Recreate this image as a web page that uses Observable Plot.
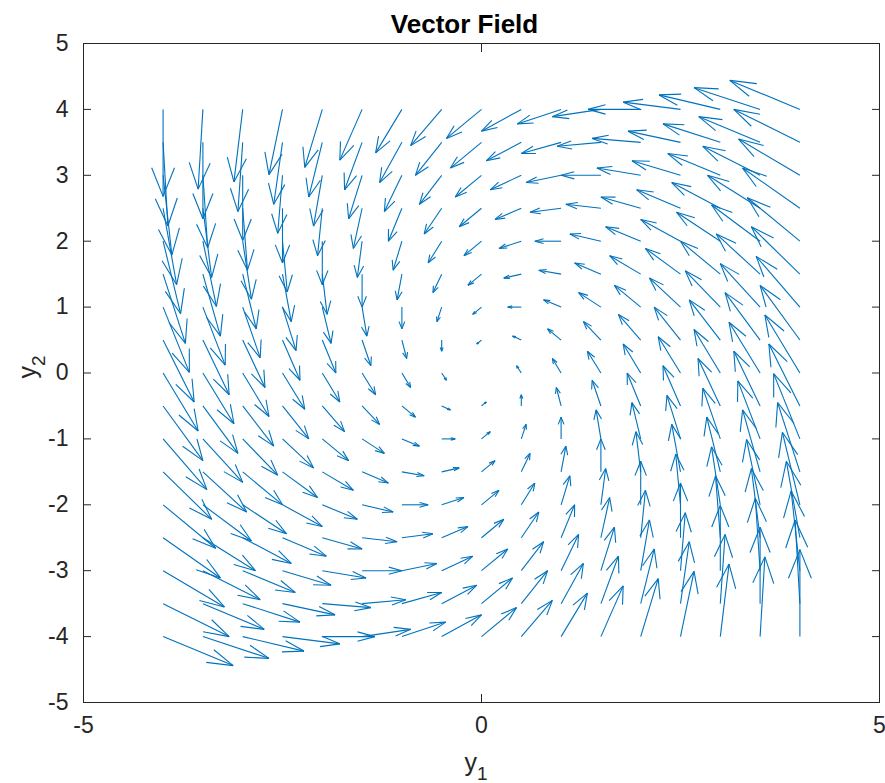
<!DOCTYPE html>
<html>
<head>
<meta charset="utf-8">
<script src="https://cdn.jsdelivr.net/npm/d3@7"></script>
<script src="https://cdn.jsdelivr.net/npm/@observablehq/plot@0.6"></script>
<style>
  html, body { margin: 0; padding: 0; background: #ffffff; }
  #chart svg { display: block; }
</style>
</head>
<body>
<div id="chart"></div>
<script>
// Grid of arrow tails
const y1Values = [-4, -3.5, -3, -2.5, -2, -1.5, -1, -0.5, 0, 0.5, 1, 1.5, 2, 2.5, 3, 3.5, 4];
const y2Values = [4, 3.5, 3, 2.5, 2, 1.5, 1, 0.5, 0, -0.5, -1, -1.5, -2, -2.5, -3, -3.5, -4];

// Arrow components (data units), one row per y2 value, one column per y1 value
const uRows = [
  [0, -0.06, -0.11, -0.17, -0.22, -0.28, -0.33, -0.39, -0.44, -0.5, -0.55, -0.61, -0.66, -0.72, -0.77, -0.83, -0.88],
  [0.06, 0, -0.06, -0.11, -0.17, -0.22, -0.28, -0.33, -0.39, -0.44, -0.5, -0.55, -0.61, -0.66, -0.72, -0.77, -0.83],
  [0.11, 0.06, 0, -0.06, -0.11, -0.17, -0.22, -0.28, -0.33, -0.39, -0.44, -0.5, -0.55, -0.61, -0.66, -0.72, -0.77],
  [0.17, 0.11, 0.06, 0, -0.06, -0.11, -0.17, -0.22, -0.28, -0.33, -0.39, -0.44, -0.5, -0.55, -0.61, -0.66, -0.72],
  [0.22, 0.17, 0.11, 0.06, 0, -0.06, -0.11, -0.17, -0.22, -0.28, -0.33, -0.39, -0.44, -0.5, -0.55, -0.61, -0.66],
  [0.28, 0.22, 0.17, 0.11, 0.06, 0, -0.06, -0.11, -0.17, -0.22, -0.28, -0.33, -0.39, -0.44, -0.5, -0.55, -0.61],
  [0.33, 0.28, 0.22, 0.17, 0.11, 0.06, 0, -0.06, -0.11, -0.17, -0.22, -0.28, -0.33, -0.39, -0.44, -0.5, -0.55],
  [0.39, 0.33, 0.28, 0.22, 0.17, 0.11, 0.06, 0, -0.06, -0.11, -0.17, -0.22, -0.28, -0.33, -0.39, -0.44, -0.5],
  [0.44, 0.39, 0.33, 0.28, 0.22, 0.17, 0.11, 0.06, 0, -0.06, -0.11, -0.17, -0.22, -0.28, -0.33, -0.39, -0.44],
  [0.5, 0.44, 0.39, 0.33, 0.28, 0.22, 0.17, 0.11, 0.06, 0, -0.06, -0.11, -0.17, -0.22, -0.28, -0.33, -0.39],
  [0.55, 0.5, 0.44, 0.39, 0.33, 0.28, 0.22, 0.17, 0.11, 0.06, 0, -0.06, -0.11, -0.17, -0.22, -0.28, -0.33],
  [0.61, 0.55, 0.5, 0.44, 0.39, 0.33, 0.28, 0.22, 0.17, 0.11, 0.06, 0, -0.06, -0.11, -0.17, -0.22, -0.28],
  [0.66, 0.61, 0.55, 0.5, 0.44, 0.39, 0.33, 0.28, 0.22, 0.17, 0.11, 0.06, 0, -0.06, -0.11, -0.17, -0.22],
  [0.72, 0.66, 0.61, 0.55, 0.5, 0.44, 0.39, 0.33, 0.28, 0.22, 0.17, 0.11, 0.06, 0, -0.06, -0.11, -0.17],
  [0.77, 0.72, 0.66, 0.61, 0.55, 0.5, 0.44, 0.39, 0.33, 0.28, 0.22, 0.17, 0.11, 0.06, 0, -0.06, -0.11],
  [0.83, 0.77, 0.72, 0.66, 0.61, 0.55, 0.5, 0.44, 0.39, 0.33, 0.28, 0.22, 0.17, 0.11, 0.06, 0, -0.06],
  [0.88, 0.83, 0.77, 0.72, 0.66, 0.61, 0.55, 0.5, 0.44, 0.39, 0.33, 0.28, 0.22, 0.17, 0.11, 0.06, 0]
];
const vRows = [
  [-1.32, -1.21, -1.1, -0.99, -0.88, -0.77, -0.66, -0.55, -0.44, -0.33, -0.22, -0.11, 0, 0.11, 0.22, 0.33, 0.44],
  [-1.27, -1.16, -1.05, -0.94, -0.83, -0.72, -0.61, -0.5, -0.39, -0.28, -0.17, -0.06, 0.06, 0.17, 0.28, 0.39, 0.5],
  [-1.21, -1.1, -0.99, -0.88, -0.77, -0.66, -0.55, -0.44, -0.33, -0.22, -0.11, 0, 0.11, 0.22, 0.33, 0.44, 0.55],
  [-1.16, -1.05, -0.94, -0.83, -0.72, -0.61, -0.5, -0.39, -0.28, -0.17, -0.06, 0.06, 0.17, 0.28, 0.39, 0.5, 0.61],
  [-1.1, -0.99, -0.88, -0.77, -0.66, -0.55, -0.44, -0.33, -0.22, -0.11, 0, 0.11, 0.22, 0.33, 0.44, 0.55, 0.66],
  [-1.05, -0.94, -0.83, -0.72, -0.61, -0.5, -0.39, -0.28, -0.17, -0.06, 0.06, 0.17, 0.28, 0.39, 0.5, 0.61, 0.72],
  [-0.99, -0.88, -0.77, -0.66, -0.55, -0.44, -0.33, -0.22, -0.11, 0, 0.11, 0.22, 0.33, 0.44, 0.55, 0.66, 0.77],
  [-0.94, -0.83, -0.72, -0.61, -0.5, -0.39, -0.28, -0.17, -0.06, 0.06, 0.17, 0.28, 0.39, 0.5, 0.61, 0.72, 0.83],
  [-0.88, -0.77, -0.66, -0.55, -0.44, -0.33, -0.22, -0.11, 0, 0.11, 0.22, 0.33, 0.44, 0.55, 0.66, 0.77, 0.88],
  [-0.83, -0.72, -0.61, -0.5, -0.39, -0.28, -0.17, -0.06, 0.06, 0.17, 0.28, 0.39, 0.5, 0.61, 0.72, 0.83, 0.94],
  [-0.77, -0.66, -0.55, -0.44, -0.33, -0.22, -0.11, 0, 0.11, 0.22, 0.33, 0.44, 0.55, 0.66, 0.77, 0.88, 0.99],
  [-0.72, -0.61, -0.5, -0.39, -0.28, -0.17, -0.06, 0.06, 0.17, 0.28, 0.39, 0.5, 0.61, 0.72, 0.83, 0.94, 1.05],
  [-0.66, -0.55, -0.44, -0.33, -0.22, -0.11, 0, 0.11, 0.22, 0.33, 0.44, 0.55, 0.66, 0.77, 0.88, 0.99, 1.1],
  [-0.61, -0.5, -0.39, -0.28, -0.17, -0.06, 0.06, 0.17, 0.28, 0.39, 0.5, 0.61, 0.72, 0.83, 0.94, 1.05, 1.16],
  [-0.55, -0.44, -0.33, -0.22, -0.11, 0, 0.11, 0.22, 0.33, 0.44, 0.55, 0.66, 0.77, 0.88, 0.99, 1.1, 1.21],
  [-0.5, -0.39, -0.28, -0.17, -0.06, 0.06, 0.17, 0.28, 0.39, 0.5, 0.61, 0.72, 0.83, 0.94, 1.05, 1.16, 1.27],
  [-0.44, -0.33, -0.22, -0.11, 0, 0.11, 0.22, 0.33, 0.44, 0.55, 0.66, 0.77, 0.88, 0.99, 1.1, 1.21, 1.32]
];

const xTicks = [-5, 0, 5];
const yTicks = [-5, -4, -3, -2, -1, 0, 1, 2, 3, 4, 5];
const titleText = "Vector Field";

// Build records
const arrows = [];
y2Values.forEach((yv, r) => {
  y1Values.forEach((xv, c) => {
    arrows.push({x: xv, y: yv, u: uRows[r][c], v: vRows[r][c]});
  });
});
// quiver-style head geometry (head fraction and width factor)
const alpha = 0.33, beta = 0.33;
const tipX = d => d.x + d.u;
const tipY = d => d.y + d.v;

const blue = "#0072BD";
const ink = "#262626";

const plot = Plot.plot({
  width: 885,
  height: 783,
  marginLeft: 83,
  marginRight: 6,
  marginTop: 43,
  marginBottom: 81,
  x: {domain: [-5, 5]},
  y: {domain: [-5, 5]},
  style: {fontFamily: "'Liberation Sans', Arial, Helvetica, sans-serif", fontSize: "23px", background: "#ffffff", color: ink},
  marks: [
    Plot.link(arrows, {x1: "x", y1: "y", x2: tipX, y2: tipY, stroke: blue, strokeWidth: 1.1}),
    Plot.link(arrows, {
      x1: tipX, y1: tipY,
      x2: d => d.x + d.u - alpha * (d.u + beta * d.v),
      y2: d => d.y + d.v - alpha * (d.v - beta * d.u),
      stroke: blue, strokeWidth: 1.1
    }),
    Plot.link(arrows, {
      x1: tipX, y1: tipY,
      x2: d => d.x + d.u - alpha * (d.u - beta * d.v),
      y2: d => d.y + d.v - alpha * (d.v + beta * d.u),
      stroke: blue, strokeWidth: 1.1
    }),
    Plot.frame({stroke: ink, strokeWidth: 1}),
    Plot.axisX({anchor: "bottom", ticks: xTicks, tickSize: -8, tickPadding: 22, label: null, tickFormat: d => String(d).replace("−", "-"), fontSize: 23, stroke: ink}),
    Plot.axisX({anchor: "top", ticks: xTicks, tickSize: -8, tickFormat: () => "", label: null, stroke: ink}),
    Plot.axisY({anchor: "left", ticks: yTicks, tickSize: -8, tickPadding: 23, label: null, tickFormat: d => String(d), fontSize: 23, stroke: ink}),
    Plot.axisY({anchor: "right", ticks: yTicks, tickSize: -8, tickFormat: () => "", label: null, stroke: ink}),
    Plot.text([titleText], {frameAnchor: "top", text: d => d, dy: -11, dx: -17, lineAnchor: "bottom", fontWeight: "bold", fontSize: 26, fill: "#000000"})
  ]
});

document.getElementById("chart").appendChild(plot);

// Axis labels with subscripts
const svg = d3.select(plot);
const xl = svg.append("text")
  .attr("x", 476).attr("y", 771)
  .attr("text-anchor", "middle")
  .attr("fill", ink)
  .style("font-family", "'Liberation Sans', Arial, sans-serif")
  .style("font-size", "25px");
xl.append("tspan").text("y");
xl.append("tspan").attr("dy", 9).style("font-size", "19px").text("1");

const yl = svg.append("text")
  .attr("transform", "translate(36,367) rotate(-90)")
  .attr("text-anchor", "middle")
  .attr("fill", ink)
  .style("font-family", "'Liberation Sans', Arial, sans-serif")
  .style("font-size", "25px");
yl.append("tspan").text("y");
yl.append("tspan").attr("dy", 9).style("font-size", "19px").text("2");
</script>
</body>
</html>
